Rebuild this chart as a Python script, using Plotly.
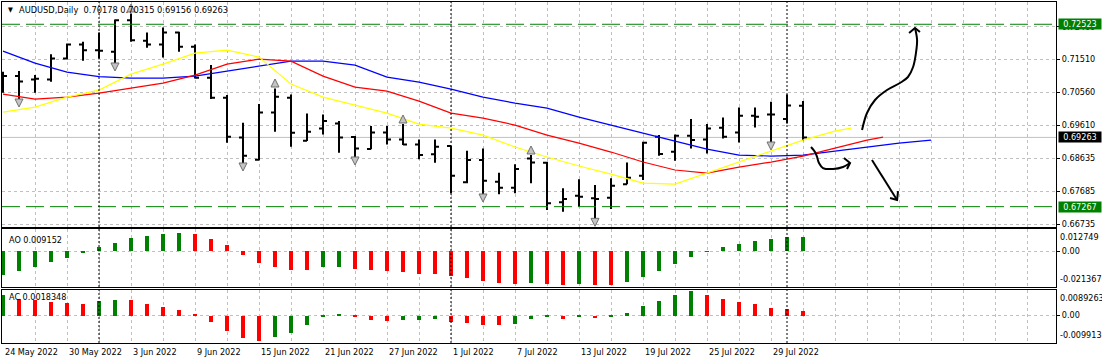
import plotly.graph_objects as go

# ---------------- data ----------------
bars = list(range(51))
date_labels = ["24 May 2022", "30 May 2022", "3 Jun 2022", "9 Jun 2022", "15 Jun 2022",
               "21 Jun 2022", "27 Jun 2022", "1 Jul 2022", "7 Jul 2022", "13 Jul 2022",
               "19 Jul 2022", "25 Jul 2022", "29 Jul 2022"]
date_bars = [0, 4, 8, 12, 16, 20, 24, 28, 32, 36, 40, 44, 48]
month_starts = [6, 28, 49]

opens = [0.70981, 0.71029, 0.70933, 0.70933, 0.71538, 0.71941, 0.71777, 0.71730, 0.72641, 0.72046,
         0.71941, 0.72286, 0.71873, 0.70981, 0.70405, 0.69263, 0.68620, 0.69983, 0.70405, 0.69167,
         0.69522, 0.69666, 0.69273, 0.68927, 0.69407, 0.69206, 0.69062, 0.68774, 0.69014, 0.67967,
         0.68610, 0.67987, 0.67814, 0.68658, 0.68534, 0.67392, 0.67584, 0.67507, 0.67526, 0.67910,
         0.68159, 0.69282, 0.68850, 0.69311, 0.69206, 0.69541, 0.69407, 0.69887, 0.69925, 0.69791,
         0.70178]
highs = [0.71154, 0.71173, 0.71058, 0.71662, 0.71969, 0.72017, 0.72286, 0.72660, 0.72833, 0.72286,
         0.72430, 0.72305, 0.71941, 0.71346, 0.70482, 0.69685, 0.70223, 0.70674, 0.70501, 0.69954,
         0.69925, 0.69733, 0.69301, 0.69589, 0.69589, 0.69647, 0.69206, 0.69206, 0.69023, 0.68879,
         0.68946, 0.68246, 0.68486, 0.68754, 0.68563, 0.67795, 0.68054, 0.67891, 0.68083, 0.68543,
         0.69138, 0.69330, 0.69349, 0.69791, 0.69647, 0.69839, 0.70127, 0.70127, 0.70290, 0.70501,
         0.70315]
lows = [0.70549, 0.70357, 0.70549, 0.70866, 0.71509, 0.71470, 0.71538, 0.71374, 0.72017, 0.71845,
        0.71566, 0.71730, 0.70962, 0.70367, 0.69110, 0.68515, 0.68605, 0.69426, 0.68994, 0.69158,
        0.69349, 0.68822, 0.68687, 0.68918, 0.69062, 0.69042, 0.68630, 0.68534, 0.67651, 0.67939,
        0.67622, 0.67622, 0.67651, 0.67939, 0.67171, 0.67123, 0.67267, 0.66835, 0.67200, 0.67910,
        0.68035, 0.68735, 0.68591, 0.68946, 0.68802, 0.69234, 0.69119, 0.69551, 0.69100, 0.69666,
        0.69156]
closes = [0.71029, 0.70875, 0.70952, 0.71538, 0.71941, 0.71777, 0.71758, 0.72641, 0.72065, 0.71941,
          0.72286, 0.71873, 0.70981, 0.70405, 0.69282, 0.68735, 0.69983, 0.70434, 0.69397, 0.69426,
          0.69733, 0.69263, 0.68946, 0.69407, 0.69206, 0.69062, 0.68754, 0.68994, 0.68159, 0.68610,
          0.68015, 0.67814, 0.68351, 0.68543, 0.67363, 0.67488, 0.67555, 0.67488, 0.67872, 0.68102,
          0.69110, 0.68783, 0.69311, 0.69186, 0.69522, 0.69282, 0.69887, 0.69858, 0.69925, 0.70180,
          0.69263]

# Alligator (read every two bars; lines are shifted forward)
jaw_x = [0, 2, 4, 6, 8, 10, 12, 14, 16, 18, 20, 22, 24, 26, 28, 30, 32, 34, 36, 38, 40, 42, 44, 46,
         48, 50, 52, 54, 56, 58]
jaw = [0.71749, 0.71403, 0.71144, 0.71015, 0.70971, 0.70971, 0.71029, 0.71173, 0.71317, 0.71461,
       0.71461, 0.71346, 0.71000, 0.70856, 0.70655, 0.70424, 0.70252, 0.70108, 0.69849, 0.69618,
       0.69388, 0.69158, 0.68927, 0.68755, 0.68726, 0.68755, 0.68870, 0.68985, 0.69100, 0.69186]
teeth_x = [0, 2, 4, 6, 8, 10, 12, 14, 16, 18, 20, 22, 24, 26, 28, 30, 32, 34, 36, 38, 40, 42, 44,
           46, 48, 50, 52, 54, 55]
teeth = [0.70511, 0.70367, 0.70424, 0.70540, 0.70684, 0.70827, 0.71058, 0.71374, 0.71518, 0.71461,
         0.71029, 0.70712, 0.70597, 0.70309, 0.69964, 0.69820, 0.69618, 0.69330, 0.69100, 0.68841,
         0.68553, 0.68323, 0.68236, 0.68409, 0.68553, 0.68726, 0.68956, 0.69186, 0.69273]
lips_x = [0, 2, 4, 6, 8, 10, 12, 14, 16, 18, 20, 22, 24, 26, 28, 30, 32, 34, 36, 38, 40, 42, 44,
          46, 48, 50, 52, 53]
lips = [0.69993, 0.70137, 0.70424, 0.70626, 0.71087, 0.71374, 0.71691, 0.71778, 0.71576, 0.70799,
        0.70424, 0.70194, 0.69964, 0.69647, 0.69532, 0.69330, 0.68985, 0.68697, 0.68438, 0.68207,
        0.67948, 0.67919, 0.68236, 0.68553, 0.68870, 0.69186, 0.69446, 0.69532]

# Fractals (price where the arrow is drawn)
frac_up_x = [8, 17, 25, 33]
frac_up_y = [0.73108, 0.70946, 0.69909, 0.69015]
frac_dn_x = [1, 7, 15, 22, 30, 37, 48]
frac_dn_y = [0.70139, 0.71177, 0.68295, 0.68468, 0.67401, 0.66700, 0.68900]

# Horizontal levels
levels = [0.72523, 0.67267]

ao = [-0.01475, -0.01264, -0.01011, -0.00674, -0.00421, -0.00105, 0.00253, 0.00506, 0.00843, 0.00948,
      0.01075, 0.01180, 0.01075, 0.00759, 0.00379, -0.00253, -0.00737, -0.01011, -0.01201, -0.01215,
      -0.01011, -0.01000, -0.01138, -0.01201, -0.01264, -0.01327, -0.01412, -0.01420, -0.01580, -0.01707,
      -0.01896, -0.02002, -0.02086, -0.02023, -0.02086, -0.02130, -0.02086, -0.02120, -0.02136, -0.01960,
      -0.01643, -0.01264, -0.00822, -0.00379, -0.00042, 0.00253, 0.00442, 0.00653, 0.00759, 0.00906,
      0.00915]
ac = [0.00763, 0.00620, 0.00591, 0.00517, 0.00480, 0.00443, 0.00554, 0.00591, 0.00570, 0.00443,
      0.00332, 0.00222, 0.00074, -0.00246, -0.00554, -0.00837, -0.00948, -0.00800, -0.00652, -0.00357,
      -0.00025, 0.00074, -0.00062, -0.00148, -0.00185, -0.00175, -0.00148, -0.00123, -0.00222, -0.00259,
      -0.00332, -0.00345, -0.00295, -0.00111, -0.00050, -0.00111, -0.00025, -0.00074, -0.00049, 0.00111,
      0.00369, 0.00554, 0.00760, 0.00893, 0.00760, 0.00628, 0.00517, 0.00443, 0.00295, 0.00259,
      0.00183]
ao_max, ao_min = 0.012749, -0.021367
ac_max, ac_min = 0.0089263, -0.009913

price_ticks = [0.72459, 0.71514, 0.70563, 0.69612, 0.68661, 0.67710, 0.66759]
price_tick_text = ["0.72460", "0.71510", "0.70560", "0.69610", "0.68635", "0.67685", "0.66735"]

# hand-drawn arrows (bar index, price)
arrow_up_x = [53.69, 54.0, 54.5, 55.25, 56.06, 56.56, 56.88, 57.06, 57.13, 57.0]
arrow_up_y = [0.69476, 0.69966, 0.70341, 0.70629, 0.70831, 0.71004, 0.71292, 0.71696, 0.72070, 0.72416]
arrow_up_head_x = [56.63, 57.0, 57.31]
arrow_up_head_y = [0.72272, 0.72416, 0.72301]
arrow_hook_x = [50.5, 50.75, 50.88, 51.0, 51.25, 51.88, 52.5, 52.94]
arrow_hook_y = [0.68986, 0.68842, 0.68698, 0.68525, 0.68381, 0.68352, 0.68410, 0.68525]
arrow_hook_head_x = [52.56, 52.94, 52.75]
arrow_hook_head_y = [0.68669, 0.68525, 0.68352]
arrow_dn_x = [54.31, 55.88]
arrow_dn_y = [0.68612, 0.67459]
arrow_dn_head_x = [55.44, 55.88, 55.94]
arrow_dn_head_y = [0.67517, 0.67459, 0.67718]

# ---------------- style ----------------
FONT = "DejaVu Sans Condensed, Liberation Sans, sans-serif"
GRID = "#c0c0c0"
GREEN = "#008000"
RED = "#ff0000"

def hist_colors(vals):
    cols = []
    for i, v in enumerate(vals):
        if i == 0 or v >= vals[i - 1]:
            cols.append(GREEN)
        else:
            cols.append(RED)
    return cols

fig = go.Figure()

fig.add_trace(go.Ohlc(x=bars, open=opens, high=highs, low=lows, close=closes,
                      increasing=dict(line=dict(color="black", width=2)),
                      decreasing=dict(line=dict(color="black", width=2)),
                      tickwidth=0.25, hoverinfo="skip", xaxis="x", yaxis="y"))

for xs, ys, col in [(jaw_x, jaw, "#0000ff"), (teeth_x, teeth, "#ff0000"), (lips_x, lips, "#ffff00")]:
    fig.add_trace(go.Scatter(x=xs, y=ys, mode="lines", line=dict(color=col, width=1.2),
                             hoverinfo="skip", xaxis="x", yaxis="y"))

fig.add_trace(go.Scatter(x=frac_up_x, y=frac_up_y, mode="markers",
                         marker=dict(symbol="arrow-up", size=8, color="#c4c4c4",
                                     line=dict(color="#707070", width=1)),
                         hoverinfo="skip", xaxis="x", yaxis="y"))
fig.add_trace(go.Scatter(x=frac_dn_x, y=frac_dn_y, mode="markers",
                         marker=dict(symbol="arrow-down", size=8, color="#c4c4c4",
                                     line=dict(color="#707070", width=1)),
                         hoverinfo="skip", xaxis="x", yaxis="y"))

# hand drawn arrows
for xs, ys, shp in [(arrow_up_x, arrow_up_y, "spline"), (arrow_up_head_x, arrow_up_head_y, "linear"),
                    (arrow_hook_x, arrow_hook_y, "spline"), (arrow_hook_head_x, arrow_hook_head_y, "linear"),
                    (arrow_dn_x, arrow_dn_y, "linear"), (arrow_dn_head_x, arrow_dn_head_y, "linear")]:
    fig.add_trace(go.Scatter(x=xs, y=ys, mode="lines", line=dict(color="black", width=2, shape=shp),
                             hoverinfo="skip", xaxis="x", yaxis="y"))

fig.add_trace(go.Bar(x=bars, y=ao, marker=dict(color=hist_colors(ao), line=dict(width=0)),
                     width=0.19, hoverinfo="skip", xaxis="x2", yaxis="y2"))
fig.add_trace(go.Bar(x=bars, y=ac, marker=dict(color=hist_colors(ac), line=dict(width=0)),
                     width=0.19, hoverinfo="skip", xaxis="x3", yaxis="y3"))

# ---------------- layout ----------------
W, H = 1102, 364
ML, MR, MT, MB = 2, 46, 2, 21
PH = H - MT - MB  # 341

def py(px):  # pixel row -> paper y
    return (H - MB - px) / PH

def pxx(px):  # pixel col -> paper x
    return (px - ML) / (W - ML - MR)

xr = [-0.0625, 65.8125]
xcommon = dict(range=xr, showline=True, mirror=True, linecolor="black", linewidth=1,
               showgrid=True, gridcolor=GRID, griddash="3px,3px", gridwidth=1,
               tickmode="linear", tick0=0, dtick=2, ticks="", showticklabels=False,
               zeroline=False, automargin=False, rangeslider=dict(visible=False))
ycommon = dict(side="right", showline=True, mirror=True, linecolor="black", linewidth=1,
               showgrid=True, gridcolor=GRID, griddash="3px,3px", gridwidth=1,
               ticks="outside", ticklen=3, tickcolor="black", zeroline=False, automargin=False,
               tickfont=dict(family=FONT, size=9, color="black"))

pad_ao = (ao_max - ao_min) / 54 * 2
pad_ac = (ac_max - ac_min) / 51

fig.update_layout(
    template="none",
    width=W, height=H,
    margin=dict(l=ML, r=MR, t=MT, b=MB, pad=0),
    paper_bgcolor="white", plot_bgcolor="white",
    showlegend=False, bargap=0, hovermode=False,
    xaxis=dict(**xcommon, anchor="y", domain=[0, 1]),
    xaxis2=dict(**xcommon, anchor="y2", domain=[0, 1], matches="x"),
    xaxis3=dict(**xcommon, anchor="y3", domain=[0, 1], matches="x"),
    yaxis=dict(**ycommon, anchor="x", domain=[py(227), 1.0], range=[0.66681, 0.73165],
               tickmode="array", tickvals=price_ticks, ticktext=price_tick_text),
    yaxis2=dict(**ycommon, anchor="x2", domain=[py(287), py(229)],
                range=[ao_min - pad_ao, ao_max + pad_ao],
                tickmode="array", tickvals=[0], ticktext=["0.00"]),
    yaxis3=dict(**ycommon, anchor="x3", domain=[0, py(289.5)],
                range=[ac_min - pad_ac, ac_max + 1.5 * pad_ac],
                tickmode="array", tickvals=[0], ticktext=["0.00"]),
)

shapes = []
for lv in levels:
    shapes.append(dict(type="line", xref="x domain", x0=0, x1=1, yref="y", y0=lv, y1=lv,
                       line=dict(color=GREEN, width=1, dash="18px,6px")))
shapes.append(dict(type="line", xref="x domain", x0=0, x1=1, yref="y", y0=closes[-1], y1=closes[-1],
                   line=dict(color="#c0c0c0", width=1), layer="below"))
for m in month_starts:
    shapes.append(dict(type="line", xref="x", x0=m, x1=m, yref="paper", y0=0, y1=1,
                       line=dict(color="black", width=1, dash="2px,2px")))
fig.update_layout(shapes=shapes)

ann = []
ann.append(dict(xref="paper", yref="paper", x=pxx(6), y=py(10), xanchor="left", yanchor="middle",
                text="▼", showarrow=False, font=dict(family=FONT, size=7, color="black")))
ann.append(dict(xref="paper", yref="paper", x=pxx(17), y=py(10), xanchor="left", yanchor="middle",
                text="AUDUSD,Daily  %.5f %.5f %.5f %.5f" % (opens[-1], highs[-1], lows[-1], closes[-1]),
                showarrow=False, font=dict(family=FONT, size=9.2, color="black")))
ann.append(dict(xref="paper", yref="paper", x=pxx(7), y=py(239.5), xanchor="left", yanchor="middle",
                text="AO 0.009152", showarrow=False, font=dict(family=FONT, size=9, color="black")))
ann.append(dict(xref="paper", yref="paper", x=pxx(7), y=py(297), xanchor="left", yanchor="middle",
                text="AC 0.0018348", showarrow=False, font=dict(family=FONT, size=9, color="black")))

# price boxes
for val, bg in [(levels[0], GREEN), (closes[-1], "black"), (levels[1], GREEN)]:
    ann.append(dict(xref="paper", yref="y", x=1, y=val, xanchor="left", yanchor="middle",
                    xshift=2, text="%.5f" % val, showarrow=False, bgcolor=bg, width=42, height=10,
                    borderpad=0, align="center", font=dict(family=FONT, size=9, color="white")))

# indicator max/min labels
ind_labels = [("y2", "0.012749", "-0.021367"), ("y3", "0.0089263", "-0.009913")]
for yr, tmax, tmin in ind_labels:
    ann.append(dict(xref="paper", yref=yr + " domain", x=1, y=1, xanchor="left", yanchor="top",
                    xshift=2, yshift=-1, text=tmax,
                    showarrow=False, font=dict(family=FONT, size=9, color="black")))
    ann.append(dict(xref="paper", yref=yr + " domain", x=1, y=0, xanchor="left", yanchor="bottom",
                    xshift=2, yshift=1, text=tmin,
                    showarrow=False, font=dict(family=FONT, size=9, color="black")))

# date labels
for b, lab in zip(date_bars, date_labels):
    ann.append(dict(xref="x3", yref="paper", x=b, y=0, xanchor="left", yanchor="top", yshift=-2,
                    text=lab, showarrow=False, font=dict(family=FONT, size=9, color="black")))
fig.update_layout(annotations=ann)

fig.write_html("out.html", config={"displayModeBar": False},
               post_script="document.body.style.margin='0px';document.body.style.padding='0px';")
